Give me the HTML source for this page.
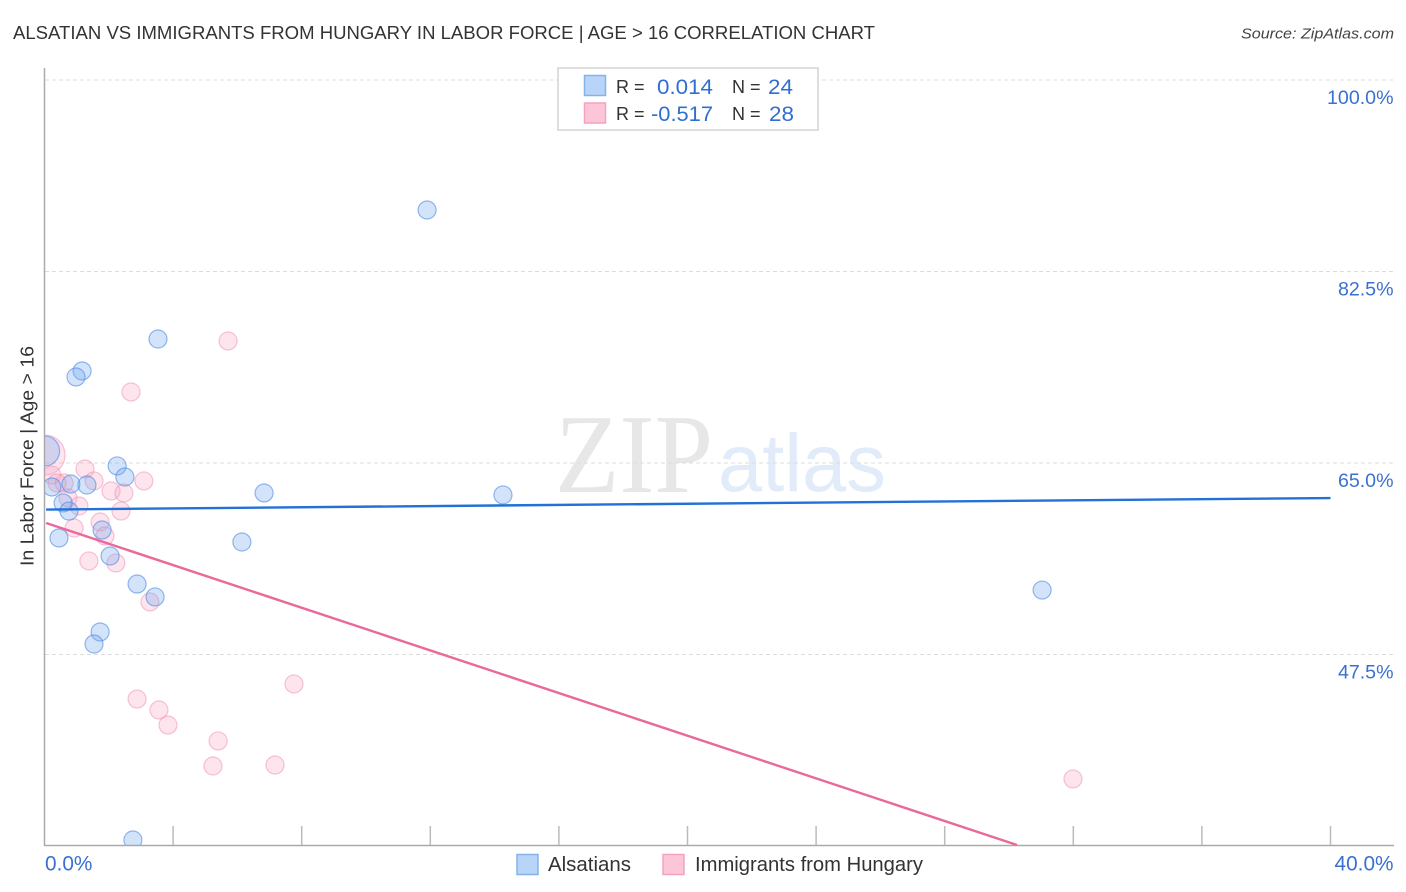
<!DOCTYPE html>
<html lang="en">
<head>
<meta charset="utf-8">
<title>Alsatian vs Immigrants from Hungary in Labor Force | Age > 16 Correlation Chart</title>
<style>
html,body{margin:0;padding:0;background:#fff;width:1406px;height:892px;overflow:hidden}
svg{display:block}
text{font-family:"Liberation Sans",sans-serif}
</style>
</head>
<body>
<svg id="chart" xmlns="http://www.w3.org/2000/svg" width="1406" height="892" viewBox="0 0 1406 892">
  <defs>
    <clipPath id="plot-clip"><rect x="45" y="60" width="1361" height="785"></rect></clipPath>
  </defs>
  <rect x="0" y="0" width="1406" height="892" fill="#fff"></rect>
  <text x="13" y="39" font-size="18.5" fill="#333" textLength="862" lengthAdjust="spacingAndGlyphs">ALSATIAN VS IMMIGRANTS FROM HUNGARY IN LABOR FORCE | AGE &gt; 16 CORRELATION CHART</text>
  <text x="1394" y="38.5" font-size="15" font-style="italic" fill="#444" text-anchor="end" textLength="153" lengthAdjust="spacingAndGlyphs">Source: ZipAtlas.com</text>
  <g>
    <text x="555" y="492" font-size="112" fill="#e7e7e7" textLength="158" lengthAdjust="spacingAndGlyphs" style="font-family:'Liberation Serif',serif">ZIP</text>
    <text x="718" y="491" font-size="82" fill="#e1ebfa" textLength="168" lengthAdjust="spacingAndGlyphs">atlas</text>
  </g>
  <g id="grid"></g>
  <g id="axes"></g>
  <g id="marks" clip-path="url(#plot-clip)"></g>
  <g id="trends"></g>
  <text transform="translate(33.5 566) rotate(-90)" font-size="18.5" fill="#333" textLength="220" lengthAdjust="spacingAndGlyphs">In Labor Force | Age &gt; 16</text>

  <g>
    <rect x="558" y="68" width="260" height="62" fill="#fff" stroke="#dedede" stroke-width="2"></rect>
    <rect x="584.5" y="75.5" width="21" height="20" fill="#b8d4f8" stroke="#86b2ea" stroke-width="1.5"></rect>
    <rect x="584.5" y="103" width="21" height="20" fill="#fcc6d8" stroke="#f3a3bf" stroke-width="1.5"></rect>
    <text x="616" y="93" font-size="18" fill="#333">R =</text>
    <text x="657" y="94" font-size="21.5" fill="#2f6fd0" textLength="56" lengthAdjust="spacingAndGlyphs">0.014</text>
    <text x="732" y="93" font-size="18" fill="#333">N =</text>
    <text x="768" y="94" font-size="21.5" fill="#2f6fd0" textLength="25" lengthAdjust="spacingAndGlyphs">24</text>
    <text x="616" y="120" font-size="18" fill="#333">R =</text>
    <text x="651" y="121" font-size="21.5" fill="#2f6fd0" textLength="62" lengthAdjust="spacingAndGlyphs">-0.517</text>
    <text x="732" y="120" font-size="18" fill="#333">N =</text>
    <text x="769" y="121" font-size="21.5" fill="#2f6fd0" textLength="25" lengthAdjust="spacingAndGlyphs">28</text>
  </g>

  <g>
    <g>
      <rect x="517" y="854.5" width="21" height="20" fill="#b8d4f8" stroke="#86b2ea" stroke-width="1.5"></rect>
      <text x="548" y="871" font-size="20" fill="#333" textLength="83" lengthAdjust="spacingAndGlyphs">Alsatians</text>
    </g>
    <g>
      <rect x="663" y="854.5" width="21" height="20" fill="#fcc6d8" stroke="#f3a3bf" stroke-width="1.5"></rect>
      <text x="695" y="871" font-size="20" fill="#333" textLength="228" lengthAdjust="spacingAndGlyphs">Immigrants from Hungary</text>
    </g>
  </g>
</svg>
<script>
// ---- Chart data ----
const xTickValues = [4, 8, 12, 16, 20, 24, 28, 32, 36, 40];
const xEndLabels = ["0.0%", "40.0%"];
const xEndValues = [0, 40];
const yGridValues = [100, 82.5, 65, 47.5];
const yTickLabels = ["100.0%", "82.5%", "65.0%", "47.5%"];

const alsatianX = [11.90, 3.53, 1.17, 0.98, 0.00, 2.26, 2.50, 1.32, 0.82, 0.23, 0.58, 0.76, 6.83, 14.26, 1.79, 0.45, 6.14, 2.04, 2.88, 3.44, 31.03, 1.73, 1.54, 2.75];
const alsatianY = [88.12, 76.33, 73.41, 72.86, 66.10, 64.73, 63.72, 62.99, 63.08, 62.81, 61.35, 60.61, 62.26, 62.08, 58.88, 58.15, 57.78, 56.50, 53.94, 52.76, 53.39, 49.56, 48.46, 30.55];
const alsatianWeight = [1, 1, 1, 1, 2.8, 1, 1, 1, 1, 1, 1, 1, 1, 1, 1, 1, 1, 1, 1, 1, 1, 1, 1, 1];

const hungaryX = [5.71, 2.69, 0.02, 1.26, 3.09, 1.54, 0.61, 0.23, 0.39, 2.07, 2.47, 0.73, 1.07, 2.38, 1.73, 0.92, 1.88, 1.38, 2.22, 3.28, 7.76, 2.88, 3.56, 3.84, 5.40, 5.24, 7.17, 31.99];
const hungaryY = [76.15, 71.49, 65.73, 64.45, 63.36, 63.36, 63.17, 63.90, 63.17, 62.44, 62.26, 61.80, 61.07, 60.61, 59.61, 59.06, 58.33, 56.05, 55.86, 52.30, 44.81, 43.43, 42.43, 41.06, 39.60, 37.31, 37.40, 36.13];
const hungaryWeight = [1, 1, 4.9, 1, 1, 1, 1, 1, 1, 1, 1, 1, 1, 1, 1, 1, 1, 1, 1, 1, 1, 1, 1, 1, 1, 1, 1, 1];

const alsatianTrendX = [0.05, 40.0];
const alsatianTrendY = [60.75, 61.80];
const hungaryTrendX = [0.05, 30.25];
const hungaryTrendY = [59.52, 30.09];

// ---- Axis functions ----
const xScale = function (v) { return 44.5 + v * 32.15; };
const yScale = function (v) { return 80 + (100 - v) * 10.943; };
const rScale = function (w) { return 9 * Math.sqrt(w); };

const NS = "http://www.w3.org/2000/svg";
function make(tag, attrs, parent) {
  const el = document.createElementNS(NS, tag);
  Object.keys(attrs).forEach(function (k) { el.setAttribute(k, attrs[k]); });
  parent.appendChild(el);
  return el;
}

const gridG = document.getElementById("grid");
const axesG = document.getElementById("axes");
const marksG = document.getElementById("marks");
const trendsG = document.getElementById("trends");

// Gridlines and y tick labels
yGridValues.forEach(function (v, i) {
  const line = make("line", { x1: 45, x2: 1394, y1: yScale(v), y2: yScale(v), stroke: "#dcdcdc", "stroke-width": 1, "stroke-dasharray": "4 3" }, gridG);
  
  
  const label = make("text", { x: 1393.5, y: yScale(v) + 24, "font-size": 19.6, fill: "#3a70d2", "text-anchor": "end" }, axesG);
  label.textContent = yTickLabels[i];
  
  
});

// Axis lines
const yAxisLine = make("line", { x1: 44.5, x2: 44.5, y1: 68, y2: 846, stroke: "#aaa", "stroke-width": 1.5 }, axesG);


const xAxisLine = make("line", { x1: 44, x2: 1394, y1: 845.5, y2: 845.5, stroke: "#aaa", "stroke-width": 1.5 }, axesG);



// X ticks
xTickValues.forEach(function (v) {
  const tick = make("line", { x1: xScale(v), x2: xScale(v), y1: 826, y2: 845, stroke: "#bbb", "stroke-width": 1.5 }, axesG);
  
  
});

// X end labels
xEndValues.forEach(function (v, i) {
  const isLast = i === xEndValues.length - 1;
  const label = make("text", { x: isLast ? 1393.5 : xScale(v) + 0.5, y: 870.5, "font-size": 20.8, fill: "#3a70d2", "text-anchor": isLast ? "end" : "start" }, axesG);
  label.textContent = xEndLabels[i];
  
  
});

// Points
hungaryX.forEach(function (v, i) {
  const c = make("circle", { cx: xScale(v), cy: yScale(hungaryY[i]), r: rScale(hungaryWeight[i]), fill: "rgba(248,165,195,0.3)", stroke: "rgba(238,140,175,0.5)", "stroke-width": 1.2 }, marksG);
  
  
});
alsatianX.forEach(function (v, i) {
  const c = make("circle", { cx: xScale(v), cy: yScale(alsatianY[i]), r: rScale(alsatianWeight[i]), fill: "rgba(110,165,240,0.3)", stroke: "rgba(70,135,225,0.58)", "stroke-width": 1.2 }, marksG);
  
  
});

// Trend lines
const blueTrend = make("line", { x1: xScale(alsatianTrendX[0]), y1: yScale(alsatianTrendY[0]), x2: xScale(alsatianTrendX[1]), y2: yScale(alsatianTrendY[1]), stroke: "#2271d6", "stroke-width": 2.4 }, trendsG);


const pinkTrend = make("line", { x1: xScale(hungaryTrendX[0]), y1: yScale(hungaryTrendY[0]), x2: xScale(hungaryTrendX[1]), y2: yScale(hungaryTrendY[1]), stroke: "#e9699a", "stroke-width": 2.4 }, trendsG);


</script>
</body>
</html>
